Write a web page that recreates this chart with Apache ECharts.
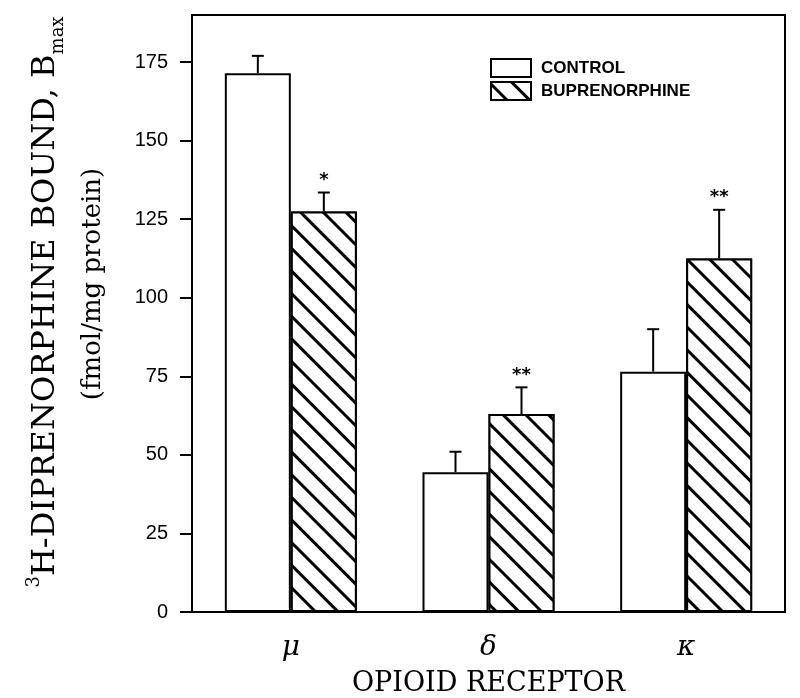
<!DOCTYPE html>
<html>
<head>
<meta charset="utf-8">
<script src="https://cdn.jsdelivr.net/npm/echarts@6/dist/echarts.min.js"></script>
<style>
  html, body { margin: 0; padding: 0; background: #fff; }
  #chart { width: 800px; height: 698px; }
</style>
</head>
<body>
<div id="chart"></div>
<script>
const receptors = ['μ', 'δ', 'κ']
const controlMean = [171.5, 44.5, 76.5]
const controlErr = [5.5, 6.5, 13.5]
const bupMean = [127.5, 63, 112.5]
const bupErr = [6, 8.5, 15.5]
const bupStars = ['*', '**', '**']
const yTicks = [0, 25, 50, 75, 100, 125, 150, 175]

const BAR_W = 66
const chart = echarts.init(document.getElementById('chart'))

const hatch = {
  symbol: 'rect',
  symbolSize: 1,
  dashArrayX: [1, 0],
  dashArrayY: [2.5, 13],
  rotation: Math.PI / 4,
  color: '#000',
  backgroundColor: '#fff'
}

// error bar (upward only) + significance stars
const errorSeries = (means, errs, stars, offset) => ({
  type: 'custom',
  z: 5,
  silent: true,
  data: means.map((m, i) => [i, m, m + errs[i], stars ? stars[i] : '']),
  renderItem: (params, api) => {
    const base = api.coord([api.value(0), api.value(1)])
    const top = api.coord([api.value(0), api.value(2)])
    const x = base[0] + offset
    const children = [
      { type: 'line', shape: { x1: x, y1: base[1], x2: x, y2: top[1] }, style: { stroke: '#000', lineWidth: 2 } },
      { type: 'line', shape: { x1: x - 6, y1: top[1], x2: x + 6, y2: top[1] }, style: { stroke: '#000', lineWidth: 2 } }
    ]
    const s = api.value(3)
    if (s) {
      children.push({
        type: 'text',
        style: { text: s, x: x, y: top[1] - 12, align: 'center', verticalAlign: 'middle',
          font: 'bold 18px "DejaVu Sans"', fill: '#000' }
      })
    }
    return { type: 'group', children }
  }
})

const option = {
  backgroundColor: '#fff',
  animation: false,
  grid: {
    left: 192, right: 15, top: 15, bottom: 86,
    outerBoundsMode: 'none',
    show: true, borderColor: '#000', borderWidth: 2
  },
  legend: {
    orient: 'vertical',
    left: 490,
    top: 58,
    padding: 0,
    icon: 'rect',
    itemWidth: 40,
    itemHeight: 18,
    itemGap: 3,
    textStyle: {
      fontFamily: '"Liberation Sans"', fontWeight: 'bold', fontSize: 17, lineHeight: 18,
      color: '#000', padding: [0, 0, 0, 5]
    },
    data: ['CONTROL', 'BUPRENORPHINE']
  },
  xAxis: {
    type: 'category',
    data: receptors,
    axisLine: { lineStyle: { color: '#000', width: 2 } },
    axisTick: { show: false },
    axisLabel: { fontFamily: '"DejaVu Serif"', fontStyle: 'italic', fontSize: 28, color: '#000', margin: 22 },
    name: 'OPIOID RECEPTOR',
    nameLocation: 'middle',
    nameGap: 58,
    nameTextStyle: { fontFamily: '"DejaVu Serif"', fontSize: 27, color: '#000' }
  },
  yAxis: {
    type: 'value',
    min: 0,
    max: 190,
    interval: 25,
    splitLine: { show: false },
    axisLine: { show: true, lineStyle: { color: '#000', width: 2 } },
    axisTick: { show: true, length: 12, customValues: yTicks, lineStyle: { color: '#000', width: 2 } },
    axisLabel: {
      fontFamily: '"Liberation Sans"', fontSize: 20, color: '#000', margin: 24,
      customValues: yTicks
    }
  },
  graphic: [
    {
      type: 'text',
      x: 46, y: 302, rotation: Math.PI / 2,
      style: {
        text: '{sup|3}{m|H-DIPRENORPHINE BOUND, B}{sub|max}',
        align: 'center', verticalAlign: 'middle',
        rich: {
          m: { fontFamily: '"DejaVu Serif"', fontSize: 32, lineHeight: 42, color: '#000' },
          sup: { fontFamily: '"DejaVu Serif"', fontSize: 18, lineHeight: 42, verticalAlign: 'top', color: '#000' },
          sub: { fontFamily: '"DejaVu Serif"', fontSize: 18, lineHeight: 42, verticalAlign: 'bottom', color: '#000' }
        }
      }
    },
    {
      type: 'text',
      x: 93, y: 284, rotation: Math.PI / 2,
      style: {
        text: '(fmol/mg protein)', align: 'center', verticalAlign: 'middle',
        font: '26px "DejaVu Serif"', fill: '#000'
      }
    }
  ],
  series: [
    {
      name: 'CONTROL',
      type: 'bar',
      data: controlMean,
      barWidth: BAR_W,
      barGap: '0%',
      itemStyle: { color: '#fff', borderColor: '#000', borderWidth: 2 }
    },
    {
      name: 'BUPRENORPHINE',
      type: 'bar',
      data: bupMean,
      barWidth: BAR_W,
      barGap: '0%',
      itemStyle: { color: '#fff', borderColor: '#000', borderWidth: 2, decal: hatch }
    },
    errorSeries(controlMean, controlErr, null, -BAR_W / 2),
    errorSeries(bupMean, bupErr, bupStars, BAR_W / 2)
  ]
}

chart.setOption(option)
</script>
</body>
</html>
